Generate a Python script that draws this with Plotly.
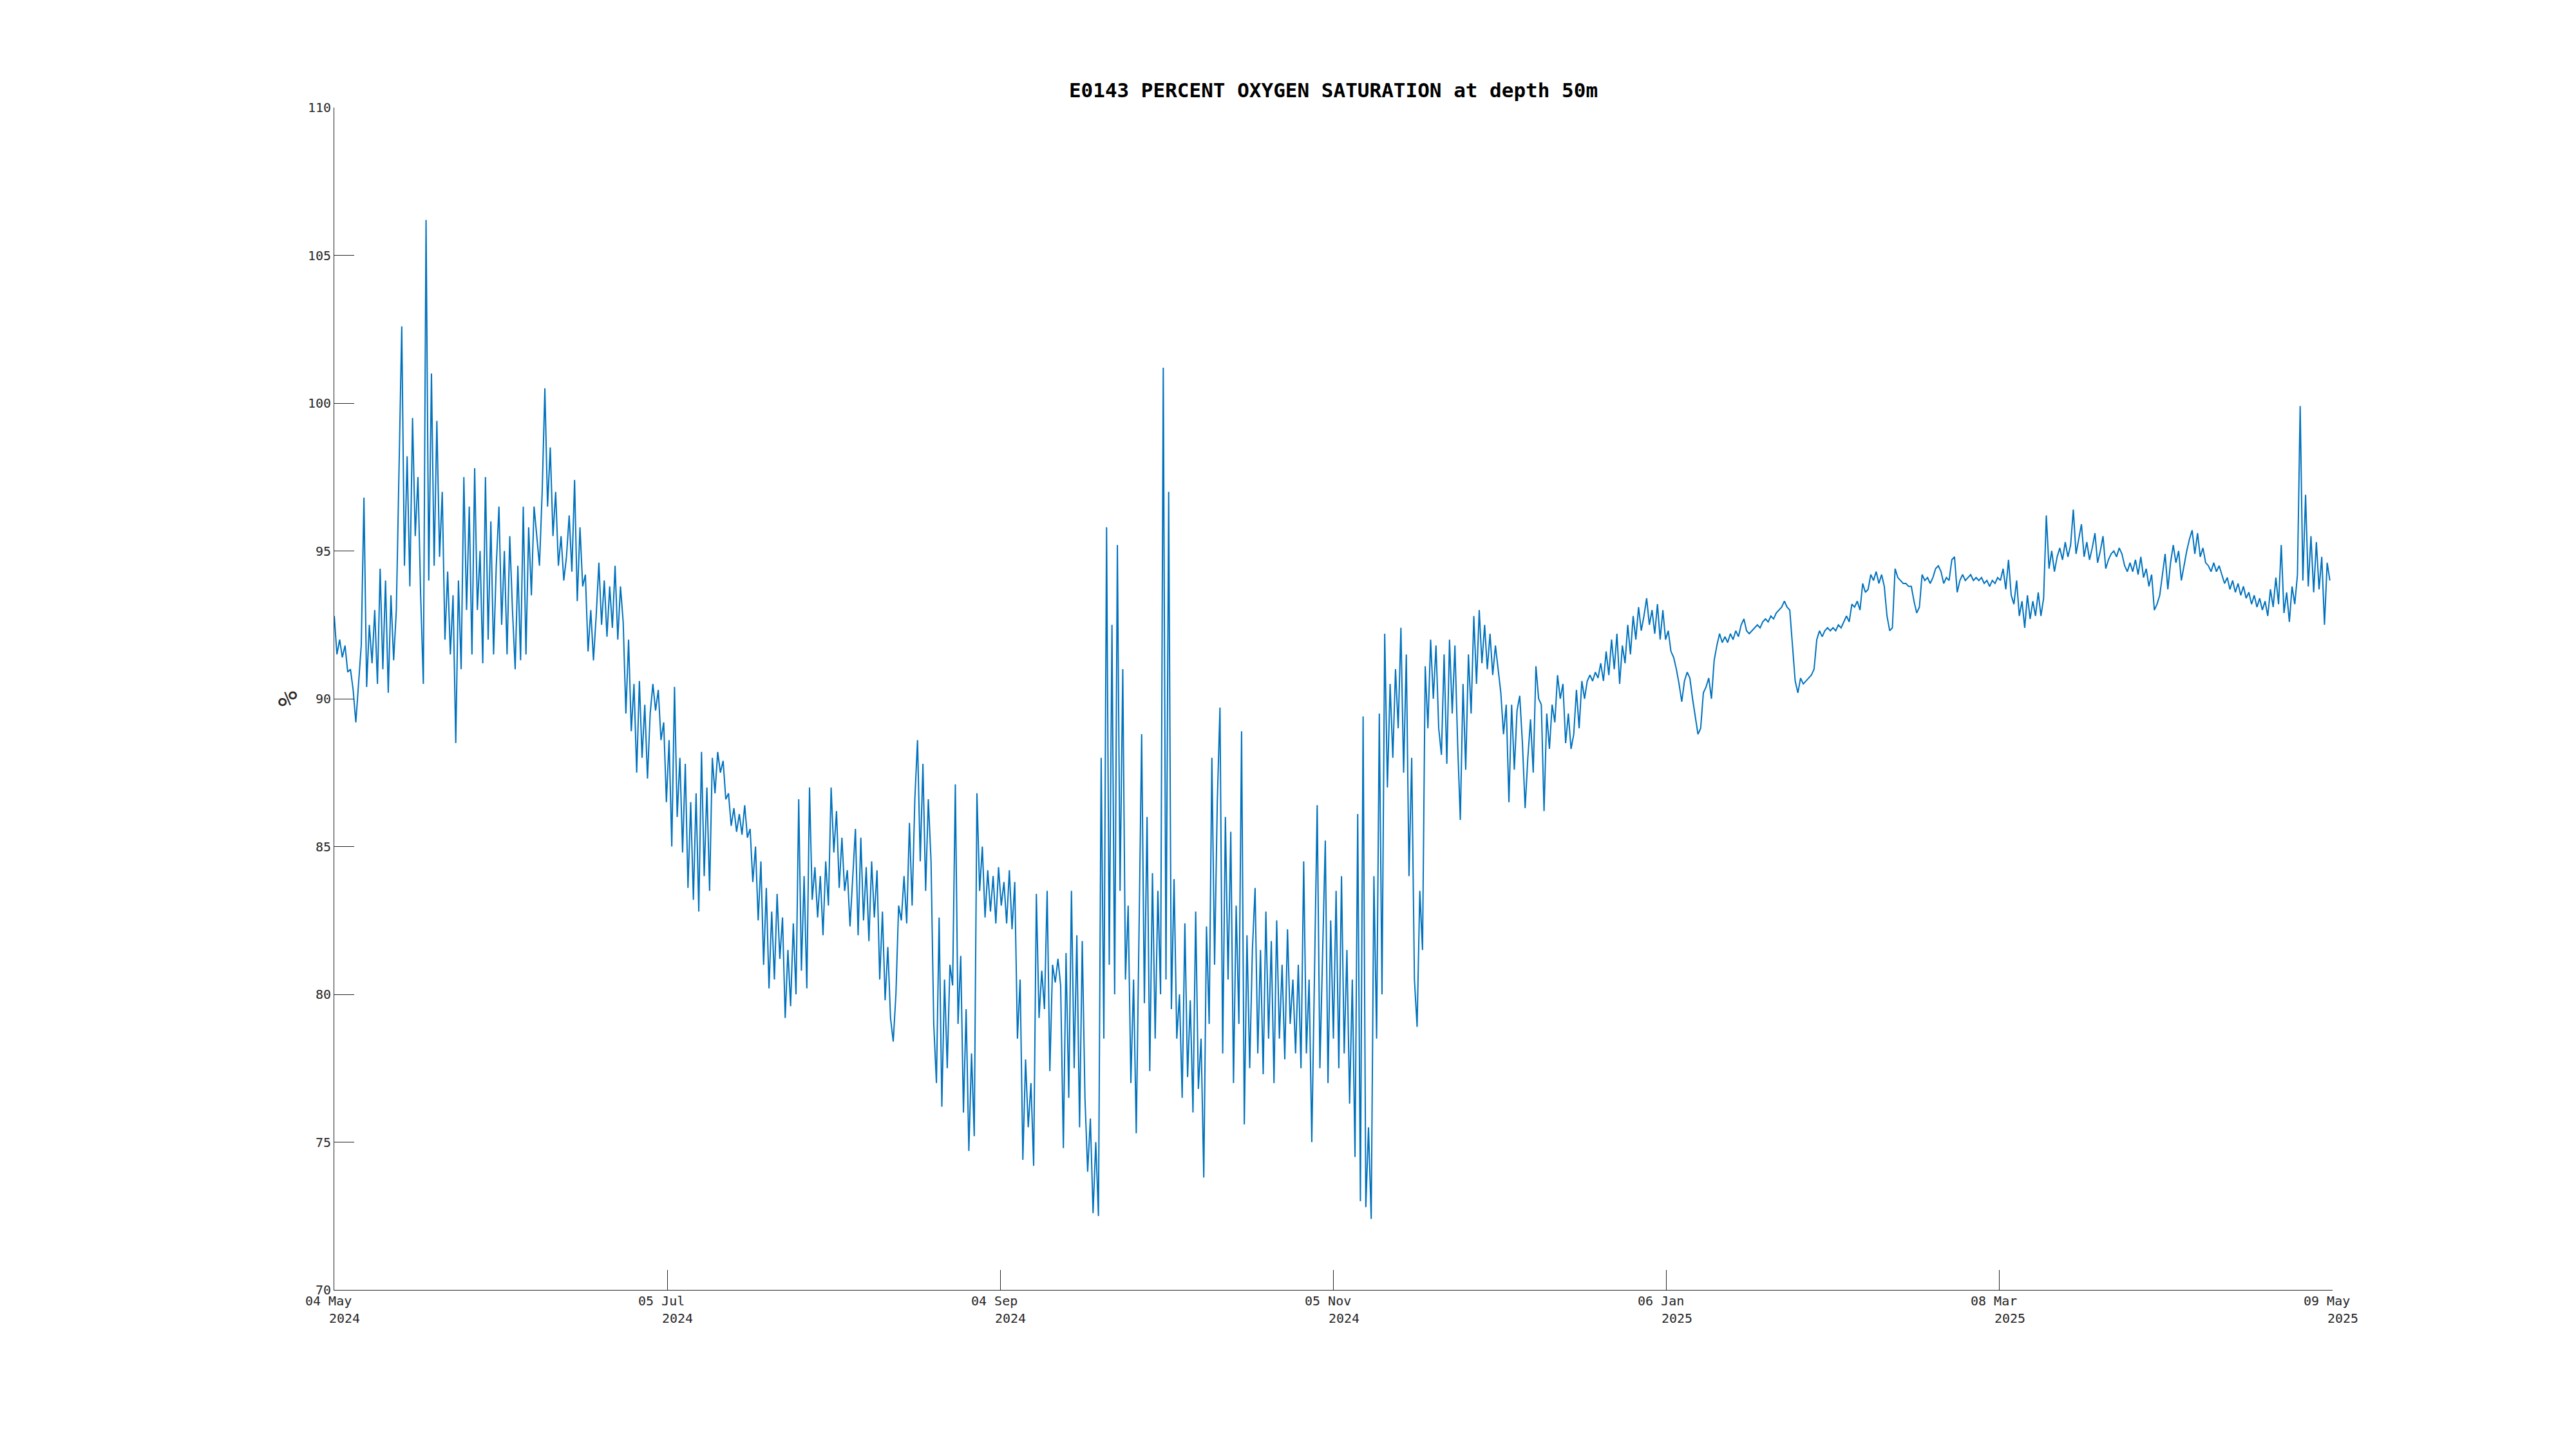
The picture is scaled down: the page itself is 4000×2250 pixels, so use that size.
import numpy as np
import pandas as pd
import plotly.graph_objects as go

# ---------------- data (percent oxygen saturation, sampled every 12 h) ----------------
start_time = "2024-05-04 00:00"
step_hours = 12

seg_may_jun = [92.8, 91.5, 92.0, 91.4, 91.8, 90.9, 91.0, 90.3, 89.2, 90.6, 91.8, 96.8, 90.4, 92.5, 91.2, 93.0,
               90.5, 94.4, 91.0, 94.0, 90.2, 93.5, 91.3, 93.0, 97.8, 102.6, 94.5, 98.2, 93.8, 99.5, 95.5, 97.5,
               93.5, 90.5, 106.2, 94.0, 101.0, 94.5, 99.4, 94.8, 97.0, 92.0, 94.3, 91.5, 93.5, 88.5, 94.0, 91.0,
               97.5, 93.0, 96.5, 91.5, 97.8, 93.0, 95.0, 91.2, 97.5, 92.0, 96.0, 91.5, 94.5, 96.5, 92.5, 95.0,
               91.5, 95.5, 93.0, 91.0, 94.5, 91.3, 96.5, 91.5, 95.8, 93.5, 96.5, 95.5, 94.5, 97.0, 100.5, 96.5,
               98.5, 95.5, 97.0, 94.5, 95.5, 94.0]
seg_jun_jul = [94.8, 96.2, 94.3, 97.4, 93.3, 95.8, 93.8, 94.2, 91.6, 93.0, 91.3, 92.8, 94.6, 92.5, 94.0, 92.1,
               93.8, 92.4, 94.5, 92.0, 93.8, 92.6, 89.5, 92.0, 88.9, 90.5, 87.5, 90.6, 88.0, 89.8, 87.3, 89.5,
               90.5, 89.6, 90.3, 88.6, 89.2, 86.5, 88.6, 85.0, 90.4, 86.0, 88.0, 84.8, 87.8, 83.6, 86.5, 83.2,
               86.8, 82.8, 88.2, 84.0, 87.0, 83.5, 88.0, 86.8, 88.2, 87.5, 87.9, 86.6, 86.8, 85.7, 86.3, 85.5,
               86.1, 85.4, 86.4, 85.3, 85.6, 83.8, 85.0, 82.5, 84.5, 81.0, 83.6, 80.2, 82.8, 80.5, 83.4, 81.2,
               82.6, 79.2]
seg_jul_sep = [81.5, 79.6, 82.4, 80.0, 86.6, 80.8, 84.0, 80.2, 87.0, 83.2, 84.3, 82.6, 84.0, 82.0, 84.5, 83.0,
               87.0, 84.8, 86.2, 83.6, 85.3, 83.5, 84.2, 82.3, 84.0, 85.6, 82.0, 85.3, 82.5, 84.3, 81.8, 84.5,
               82.6, 84.2, 80.5, 82.8, 79.8, 81.6, 79.2, 78.4, 80.0, 83.0, 82.5, 84.0, 82.4, 85.8, 83.0, 86.6,
               88.6, 84.5, 87.8, 83.5, 86.6, 84.5, 79.0, 77.0, 82.6, 76.2, 80.5, 77.5, 81.0, 80.3, 87.1, 79.0,
               81.3, 76.0, 79.5, 74.7, 78.0, 75.2, 86.8, 83.5, 85.0, 82.6, 84.2, 82.8, 84.0, 82.4, 84.3, 83.0,
               83.8]
seg_sep_oct = [82.4, 84.2, 82.2, 83.8, 78.5, 80.5, 74.4, 77.8, 75.5, 77.0, 74.2, 83.4, 79.2, 80.8, 79.5, 83.5,
               77.4, 81.0, 80.4, 81.2, 80.3, 74.8, 81.4, 76.5, 83.5, 77.5, 82.0, 75.5, 81.8, 76.5, 74.0, 75.8,
               72.6, 75.0, 72.5, 88.0, 78.5, 95.8, 81.0, 92.5, 80.0, 95.2, 83.5, 91.0, 80.5, 83.0, 77.0, 80.5,
               75.3, 82.0, 88.8, 79.7, 86.0, 77.4, 84.1, 78.5, 83.5, 80.0, 101.2, 80.5, 97.0, 79.5, 83.9, 78.5,
               80.0, 76.5, 82.4, 77.2, 79.8, 76.0, 82.8, 76.8, 78.5, 73.8, 82.3, 79.0, 88.0, 81.0]
seg_oct_nov = [86.5, 89.7, 78.0, 86.0, 80.5, 85.5, 77.0, 83.0, 79.0, 88.9, 75.6, 82.0, 77.5, 81.5, 83.6, 78.0,
               81.5, 77.3, 82.8, 78.5, 81.8, 77.0, 82.5, 78.5, 81.0, 77.8, 82.2, 79.0, 80.5, 78.0, 81.0, 77.5,
               84.5, 78.0, 80.5, 75.0, 80.8, 86.4, 77.5, 81.5, 85.2, 77.0, 82.5, 78.5, 83.5, 77.5, 84.0, 78.0,
               81.5, 76.3, 80.5, 74.5, 86.1, 73.0, 89.4, 72.8, 75.5, 72.4, 84.0, 78.5, 89.5, 80.0, 92.2, 87.0,
               90.5, 88.0, 91.0, 89.0, 92.4, 87.5, 91.5, 84.0, 88.0, 80.5, 78.9, 83.5, 81.5, 91.1, 89.0, 92.0,
               90.0, 91.8]
seg_nov_jan = [89.0, 88.1, 91.5, 87.8, 92.0, 89.5, 91.8, 88.5, 85.9, 90.5, 87.6, 91.5, 89.5, 92.8, 90.5, 93.0,
               91.2, 92.5, 91.0, 92.2, 90.8, 91.8, 91.0, 90.2, 88.8, 89.8, 86.5, 89.8, 87.6, 89.6, 90.1, 88.5,
               86.3, 88.0, 89.3, 87.5, 91.1, 90.0, 89.8, 86.2, 89.5, 88.3, 89.8, 89.2, 90.8, 90.0, 90.5, 88.5,
               89.5, 88.3, 88.8, 90.3, 89.0, 90.6, 90.0, 90.6, 90.8, 90.6, 90.9, 90.7, 91.2, 90.6, 91.6, 90.8,
               92.0, 91.0, 92.2, 90.5, 91.8, 91.2, 92.5, 91.5, 92.8, 92.0, 93.1, 92.3, 92.8, 93.4, 92.5, 93.0]
seg_jan_feb = [92.2, 93.2, 92.0, 93.0, 92.0, 92.3, 91.6, 91.4, 91.0, 90.5, 89.9, 90.6, 90.9, 90.7, 90.0, 89.4,
               88.8, 89.0, 90.2, 90.4, 90.7, 90.0, 91.3, 91.8, 92.2, 91.9, 92.1, 91.9, 92.2, 92.0, 92.3, 92.1,
               92.5, 92.7, 92.3, 92.2, 92.3, 92.4, 92.5, 92.4, 92.6, 92.7, 92.6, 92.8, 92.7, 92.9, 93.0, 93.1,
               93.3, 93.1, 93.0, 91.8, 90.6, 90.2, 90.7, 90.5, 90.6, 90.7, 90.8, 91.0, 92.0, 92.3, 92.1, 92.3,
               92.4, 92.3, 92.4, 92.3, 92.5, 92.4, 92.6, 92.8, 92.6, 93.2, 93.1, 93.3, 93.0, 93.9, 93.6, 93.7,
               94.2, 94.0, 94.3, 93.9]
seg_feb_mar = [94.2, 93.8, 92.8, 92.3, 92.4, 94.4, 94.1, 94.0, 93.9, 93.9, 93.8, 93.8, 93.3, 92.9, 93.1, 94.2,
               94.0, 94.1, 93.9, 94.1, 94.4, 94.5, 94.3, 93.9, 94.1, 94.0, 94.7, 94.8, 93.6, 94.0, 94.2, 94.0,
               94.1, 94.2, 94.0, 94.1, 94.0, 94.1, 93.9, 94.0, 93.8, 94.0, 93.9, 94.1, 94.0, 94.4, 93.7, 94.7,
               93.5, 93.2, 94.0, 92.8, 93.3, 92.4, 93.5, 92.7, 93.3, 92.8, 93.6, 92.8, 93.4, 96.2, 94.4, 95.0,
               94.3, 94.8, 95.1, 94.7, 95.3, 94.8, 95.2, 96.4, 94.9, 95.4, 95.9, 94.8, 95.3, 94.7, 95.1, 95.6,
               94.6]
seg_mar_may = [95.0, 95.5, 94.4, 94.7, 94.9, 95.0, 94.8, 95.1, 94.9, 94.5, 94.3, 94.6, 94.3, 94.7, 94.2, 94.8,
               94.1, 94.4, 93.8, 94.2, 93.0, 93.2, 93.5, 94.2, 94.9, 93.7, 94.6, 95.2, 94.6, 95.0, 94.0, 94.5,
               95.0, 95.4, 95.7, 94.9, 95.6, 94.8, 95.1, 94.6, 94.5, 94.3, 94.6, 94.3, 94.5, 94.2, 93.9, 94.1,
               93.7, 94.0, 93.6, 93.9, 93.5, 93.8, 93.4, 93.6, 93.2, 93.5, 93.1, 93.4, 93.0, 93.3, 92.8, 93.7,
               93.1, 94.1, 93.2, 95.2, 92.9, 93.6, 92.6, 93.8, 93.2, 94.2, 99.9, 94.0, 96.9, 93.8, 95.5, 93.6,
               95.3, 93.7, 94.8, 92.5, 94.6, 94.0]

x_range = ["2024-05-04 00:00", "2025-05-09 00:00"]
tick_top = ["04 May", "05 Jul", "04 Sep", "05 Nov", "06 Jan", "08 Mar", "09 May"]
tick_bottom = ["2024", "2024", "2024", "2024", "2025", "2025", "2025"]
y_ticks = [70, 75, 80, 85, 90, 95, 100, 105, 110]

title_text = "E0143 PERCENT OXYGEN SATURATION at depth 50m"
y_label = "%"

# ---------------- build ----------------
values = (seg_may_jun + seg_jun_jul + seg_jul_sep + seg_sep_oct + seg_oct_nov +
          seg_nov_jan + seg_jan_feb + seg_feb_mar + seg_mar_may)
times = pd.Timestamp(start_time) + pd.to_timedelta(np.arange(len(values)) * step_hours, unit="h")

tick_vals = pd.date_range(x_range[0], x_range[1], periods=len(tick_top))

FONT = "DejaVu Sans Mono"
AX = "#262626"
W, H = 3992, 2242   # page body has an 8px margin

fig = go.Figure()
fig.add_trace(go.Scatter(x=times, y=values, mode="lines",
                         line=dict(color="#0072BD", width=2), showlegend=False))

annotations = []
for tv, t1, t2 in zip(tick_vals, tick_top, tick_bottom):
    annotations.append(dict(x=tv, y=0, xref="x", yref="paper", text=t1, showarrow=False,
                            xanchor="center", yanchor="middle", xshift=-9, yshift=-17,
                            font=dict(family=FONT, size=20, color=AX)))
    annotations.append(dict(x=tv, y=0, xref="x", yref="paper", text=t2, showarrow=False,
                            xanchor="center", yanchor="middle", xshift=16, yshift=-44,
                            font=dict(family=FONT, size=20, color=AX)))
annotations.append(dict(x=0, y=0.5, xref="paper", yref="paper", text=y_label, showarrow=False,
                        textangle=-90, xanchor="center", yanchor="middle", xshift=-72,
                        font=dict(family=FONT, size=40, color=AX)))

fig.update_layout(
    width=W, height=H,
    paper_bgcolor="white", plot_bgcolor="white",
    margin=dict(l=511, r=378, t=159, b=247),
    title=dict(text=title_text, x=0.5, xref="paper", xanchor="center",
               y=1 - 132 / H, yanchor="middle",
               font=dict(family=FONT, size=31, color="black", weight="bold")),
    xaxis=dict(type="date", range=x_range, tickvals=list(tick_vals), showticklabels=False,
               ticks="inside", ticklen=31, tickwidth=1, tickcolor=AX,
               showline=True, linecolor=AX, linewidth=1, showgrid=False, zeroline=False, mirror=False),
    yaxis=dict(range=[70, 110], tickvals=y_ticks, ticks="inside", ticklen=31, tickwidth=1, tickcolor=AX,
               showline=True, linecolor=AX, linewidth=1, showgrid=False, zeroline=False, mirror=False,
               tickfont=dict(family=FONT, size=20, color=AX)),
    annotations=annotations,
)

fig.write_html("out.html")
